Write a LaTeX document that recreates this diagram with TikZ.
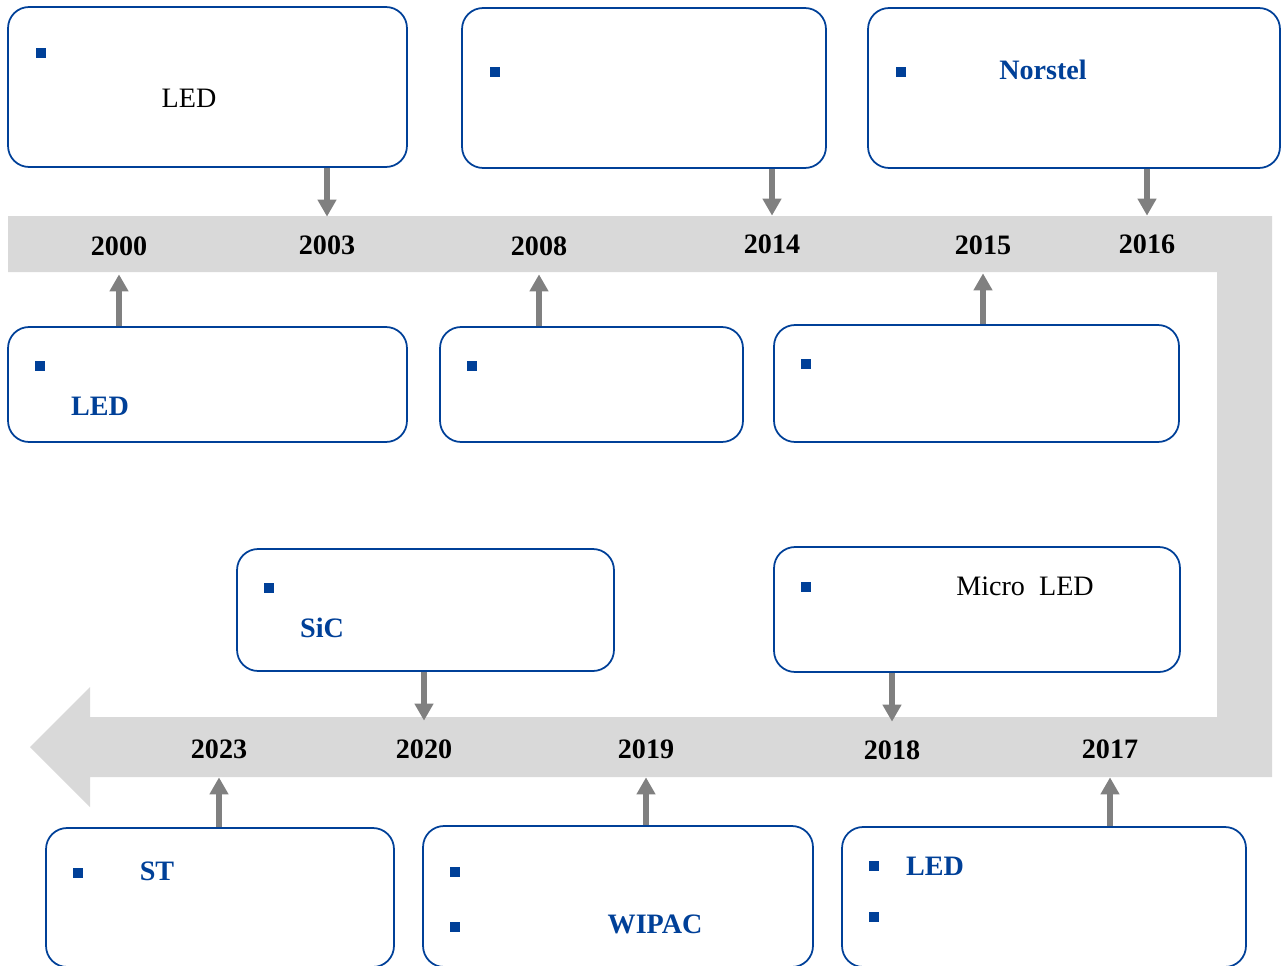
\documentclass[tikz,border=0pt]{standalone}
\usepackage{fontspec}
\setmainfont{Liberation Serif}
\usepackage{xcolor}
\definecolor{boxblue}{RGB}{0,64,152}
\definecolor{bandgray}{RGB}{217,217,217}
\definecolor{arrowgray}{RGB}{128,128,128}
\usepackage{tikz}
\usetikzlibrary{arrows.meta,positioning,calc}

\begin{document}
\begin{tikzpicture}[
  x=0.02cm, y=-0.02cm,
  infobox/.style={rectangle, rounded corners=0.42cm, draw=boxblue, line width=1pt,
              fill=white, inner sep=0pt},
  bul/.style={rectangle, fill=boxblue, minimum size=0.2cm, inner sep=0pt},
  yr/.style={font=\fontsize{16}{18}\selectfont\bfseries, text=black,
              minimum height=1.12cm, inner sep=0pt},
  txt/.style={font=\fontsize{16}{18}\selectfont, text=black, inner sep=0pt},
  bluetxt/.style={font=\fontsize{16}{18}\selectfont\bfseries, text=boxblue, inner sep=0pt},
  arr/.style={-{Triangle[width=0.36cm,length=0.34cm]}, line width=3.6pt, color=arrowgray}
]
\clip (0,0) rectangle (1287,966);

%% timeline band
\fill[bandgray] (8,216) -- (1272,216) -- (1272,777) -- (90,777) -- (90,807)
  -- (30,747) -- (90,687) -- (90,717) -- (1217,717) -- (1217,272) -- (8,272) -- cycle;

%% years
\node[yr] (y2000) at (119,246) {2000};
\node[yr] (y2003) at (327,245) {2003};
\node[yr] (y2008) at (539,246) {2008};
\node[yr] (y2014) at (772,244) {2014};
\node[yr] (y2015) at (983,245) {2015};
\node[yr] (y2016) at (1147,244) {2016};
\node[yr] (y2023) at (219,749) {2023};
\node[yr] (y2020) at (424,749) {2020};
\node[yr] (y2019) at (646,749) {2019};
\node[yr] (y2018) at (892,750) {2018};
\node[yr] (y2017) at (1110,749) {2017};

%% boxes
\node[infobox, minimum width=7.98cm, minimum height=3.2cm] (t1) at (207.5,87) {};
\node[infobox, minimum width=7.28cm, minimum height=3.2cm] (t2) at (644,88) {};
\node[infobox, minimum width=8.24cm, minimum height=3.2cm] (t3) at (1074,88) {};
\node[infobox, minimum width=7.98cm, minimum height=2.3cm] (m1) at (207.5,384.5) {};
\node[infobox, minimum width=6.06cm, minimum height=2.3cm] (m2) at (591.5,384.5) {};
\node[infobox, minimum width=8.1cm, minimum height=2.34cm] (m3) at (976.5,383.5) {};
\node[infobox, minimum width=7.54cm, minimum height=2.44cm] (l1) at (425.5,610) {};
\node[infobox, minimum width=8.12cm, minimum height=2.5cm] (l2) at (977,609.5) {};
\node[infobox, minimum width=6.96cm, minimum height=2.78cm] (b1) at (220,897.5) {};
\node[infobox, minimum width=7.8cm, minimum height=2.82cm] (b2) at (618,896.5) {};
\node[infobox, minimum width=8.08cm, minimum height=2.8cm] (b3) at (1044,897) {};

%% box contents
\node[bul] (t1b) at (41,53) {};
\node[txt] (t1t) at (189,98) {LED};
\node[bul] (t2b) at (495,72) {};
\node[bul] (t3b) at (901,72) {};
\node[bluetxt] (t3t) at (1043,70) {Norstel};
\node[bul] (m1b) at (40,366) {};
\node[bluetxt] (m1t) at (100,406) {LED};
\node[bul] (m2b) at (472,366) {};
\node[bul] (m3b) at (806,364) {};
\node[bul] (l1b) at (269,588) {};
\node[bluetxt] (l1t) at (322,628) {SiC};
\node[bul] (l2b) at (806,587) {};
\node[txt] (l2t) at (1025,586) {Micro~ LED};
\node[bul] (b1b) at (78,873) {};
\node[bluetxt] (b1t) at (157,871) {ST};
\node[bul] (b2b) at (455,872) {};
\node[bul] (b2c) at (455,927) {};
\node[bluetxt] (b2t) at (655,924) {WIPAC};
\node[bul] (b3b) at (874,866) {};
\node[bul] (b3c) at (874,917) {};
\node[bluetxt] (b3t) at (935,866) {LED};

%% arrows to the band
\draw[arr] (y2003 |- t1.south) -- (y2003.north);
\draw[arr] (y2014 |- t2.south) -- (y2014.north);
\draw[arr] (y2016 |- t3.south) -- (y2016.north);
\draw[arr] (y2000 |- m1.north) -- (y2000.south);
\draw[arr] (y2008 |- m2.north) -- (y2008.south);
\draw[arr] (y2015 |- m3.north) -- (y2015.south);
\draw[arr] (y2020 |- l1.south) -- (y2020.north);
\draw[arr] (y2018 |- l2.south) -- (y2018.north);
\draw[arr] (y2023 |- b1.north) -- (y2023.south);
\draw[arr] (y2019 |- b2.north) -- (y2019.south);
\draw[arr] (y2017 |- b3.north) -- (y2017.south);

\end{tikzpicture}
\end{document}
